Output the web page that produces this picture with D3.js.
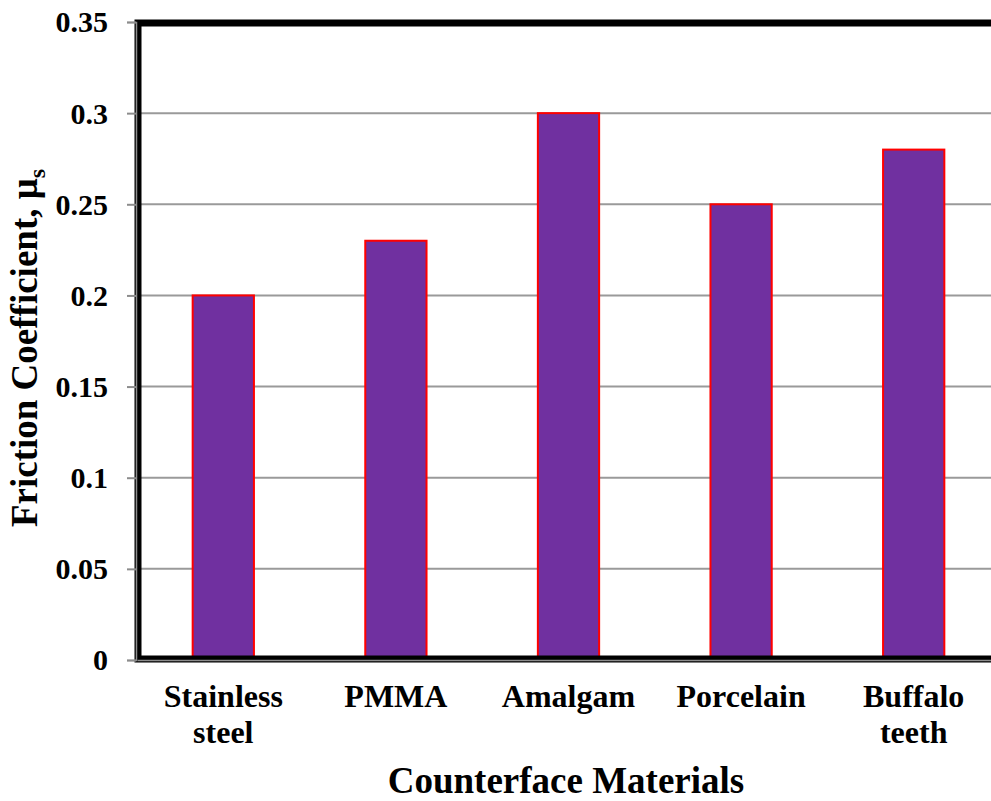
<!DOCTYPE html>
<html>
<head>
<meta charset="utf-8">
<script src="https://cdn.jsdelivr.net/npm/d3@7"></script>
<style>
  html, body { margin: 0; padding: 0; background: #fff; }
  svg { display: block; }
  svg text { font-family: "Liberation Serif", "Times New Roman", serif; font-weight: bold; fill: #000; }
</style>
</head>
<body>
<svg id="chart" width="991" height="801"></svg>
<script>
// Static friction coefficient for each counterface material
const materials = ["Stainless steel", "PMMA", "Amalgam", "Porcelain", "Buffalo teeth"];
const materialLines = [["Stainless", "steel"], ["PMMA"], ["Amalgam"], ["Porcelain"], ["Buffalo", "teeth"]];
const frictionValues = [0.20, 0.23, 0.30, 0.25, 0.28];
const yTickValues = [0, 0.05, 0.1, 0.15, 0.2, 0.25, 0.3, 0.35];
const yTickLabels = ["0", "0.05", "0.1", "0.15", "0.2", "0.25", "0.3", "0.35"];

const serif = '"Liberation Serif", "Times New Roman", serif';
const svg = d3.select("#chart");
const plot = { left: 137, right: 1000, top: 22, bottom: 660 };

const x = d3.scaleBand()
  .domain(materials)
  .range([plot.left, plot.right])
  .paddingInner(0.645)
  .paddingOuter(0.3225);

const y = d3.scaleLinear()
  .domain([0, 0.35])
  .range([plot.bottom, plot.top]);

// Horizontal gridlines
svg.append("g")
  .selectAll("line")
  .data(yTickValues.slice(1))
  .join("line")
  .attr("x1", plot.left)
  .attr("x2", plot.right)
  .attr("y1", d => y(d))
  .attr("y2", d => y(d))
  .attr("stroke", "#9a9a9a")
  .attr("stroke-width", 2);

// Bars
svg.append("g")
  .selectAll("rect")
  .data(frictionValues)
  .join("rect")
  .attr("x", (d, i) => x(materials[i]))
  .attr("y", d => y(d))
  .attr("width", x.bandwidth())
  .attr("height", d => y(0) - y(d))
  .attr("fill", "#7030A0")
  .attr("stroke", "#FF0000")
  .attr("stroke-width", 2);

// Plot-area frame
svg.append("path")
  .attr("d", `M${plot.right + 20},${plot.top + 1} L${plot.left + 1},${plot.top + 1} L${plot.left + 1},${plot.bottom - 1} L${plot.right + 20},${plot.bottom - 1}`)
  .attr("fill", "none")
  .attr("stroke", "#000")
  .attr("stroke-width", 7);

// Y axis
const yAxis = d3.axisLeft(y)
  .tickValues(yTickValues)
  .tickFormat((d, i) => yTickLabels[i])
  .tickSize(9)
  .tickPadding(19);

const gy = svg.append("g")
  .attr("transform", `translate(${plot.left - 1},0)`)
  .call(yAxis)
  .attr("font-family", null)
  .attr("font-size", null);
gy.select(".domain").attr("stroke", "#8c8c8c").attr("stroke-width", 1.5);
gy.selectAll(".tick line").attr("stroke", "#8c8c8c").attr("stroke-width", 2);
gy.selectAll(".tick text")
  .style("font-family", serif)
  .style("font-weight", "bold")
  .style("font-size", "30px")
  .attr("fill", "#000")
  .attr("dy", "0.33em");

// X axis line (gray, inside the frame)
const xAxis = d3.axisBottom(x).tickSize(0).tickFormat("");
const gx = svg.append("g")
  .attr("transform", `translate(0,${plot.bottom})`)
  .call(xAxis)
  .attr("font-family", null)
  .attr("font-size", null);
gx.select(".domain").attr("stroke", "#8c8c8c").attr("stroke-width", 1.5);

// Category labels, wrapped onto two lines where needed
gx.selectAll(".tick text").remove();
gx.selectAll(".tick").each(function(d) {
  const i = materials.indexOf(d);
  const t = d3.select(this).append("text")
    .attr("text-anchor", "middle")
    .style("font-family", serif)
    .style("font-weight", "bold")
    .style("font-size", "32px")
    .attr("fill", "#000");
  materialLines[i].forEach((line, k) => {
    t.append("tspan").attr("x", 0).attr("y", 47 + k * 36).text(line);
  });
});

// Axis titles
svg.append("text")
  .attr("x", 566)
  .attr("y", 793)
  .attr("text-anchor", "middle")
  .style("font-family", serif)
  .style("font-size", "37px")
  .text("Counterface Materials");

const yTitle = svg.append("text")
  .attr("transform", "translate(37,348) rotate(-90)")
  .attr("text-anchor", "middle")
  .style("font-family", serif)
  .style("font-size", "37px");
yTitle.append("tspan").text("Friction Coefficient, μ");
yTitle.append("tspan").style("font-size", "24px").attr("dy", 8).text("s");
</script>
</body>
</html>
